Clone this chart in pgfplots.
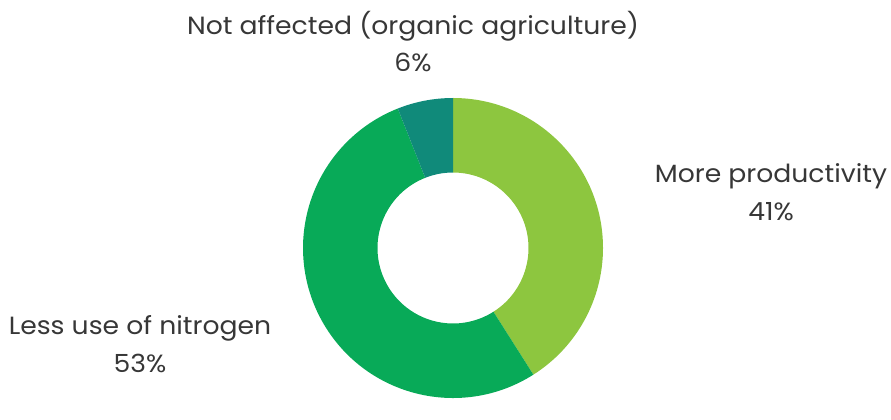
\documentclass[border=0pt]{standalone}
\usepackage{pgfplots}
\pgfplotsset{compat=1.18}
\usepackage{pgfplotstable}
\usepackage{fontspec}
\setmainfont{Poppins}[FakeStretch=1.07]
\definecolor{cLight}{RGB}{141,198,63}
\definecolor{cMid}{RGB}{8,170,88}
\definecolor{cTeal}{RGB}{16,138,122}
\definecolor{txt}{RGB}{55,55,55}
\pgfplotstableread{
label value
More 41
Less 53
Not 6
}\shares
\pgfplotstablegetelem{0}{value}\of\shares \edef\vA{\pgfplotsretval}
\pgfplotstablegetelem{1}{value}\of\shares \edef\vB{\pgfplotsretval}
\pgfplotstablegetelem{2}{value}\of\shares \edef\vC{\pgfplotsretval}
\pgfmathsetmacro{\aO}{90}
\pgfmathsetmacro{\aA}{\aO-\vA*3.6}
\pgfmathsetmacro{\aB}{\aA-\vB*3.6}
\pgfmathsetmacro{\aC}{\aB-\vC*3.6}
\def\cx{453}\def\cy{151}\def\ro{150}\def\ri{75.5}
\newcommand{\sector}[3]{%
  \fill[#3] (axis cs:{\cx+\ro*cos(#1)},{\cy+\ro*sin(#1)})
    arc[start angle=#1, end angle=#2, radius=\ro bp]
    -- (axis cs:{\cx+\ri*cos(#2)},{\cy+\ri*sin(#2)})
    arc[start angle=#2, end angle=#1, radius=\ri bp] -- cycle;}
\begin{document}
\begin{tikzpicture}
\begin{axis}[width=891bp,height=399bp,scale only axis,
  xmin=0,xmax=891,ymin=0,ymax=399,hide axis,clip=false]
\path (axis cs:0,0) (axis cs:891,399);
\sector{\aO}{\aA}{cLight}
\sector{\aA}{\aB}{cMid}
\sector{\aB}{\aC}{cTeal}
\node[text=txt, align=center, inner sep=0pt, font=\fontsize{25}{38}\selectfont] at (axis cs:413,357.5) {Not affected (organic agriculture)\\6\%};
\node[text=txt, align=center, inner sep=0pt, font=\fontsize{25}{38}\selectfont] at (axis cs:771,207) {More productivity\\41\%};
\node[text=txt, align=center, inner sep=0pt, font=\fontsize{25}{38}\selectfont] at (axis cs:140,54.5) {Less use of nitrogen\\53\%};
\end{axis}
\end{tikzpicture}
\end{document}
